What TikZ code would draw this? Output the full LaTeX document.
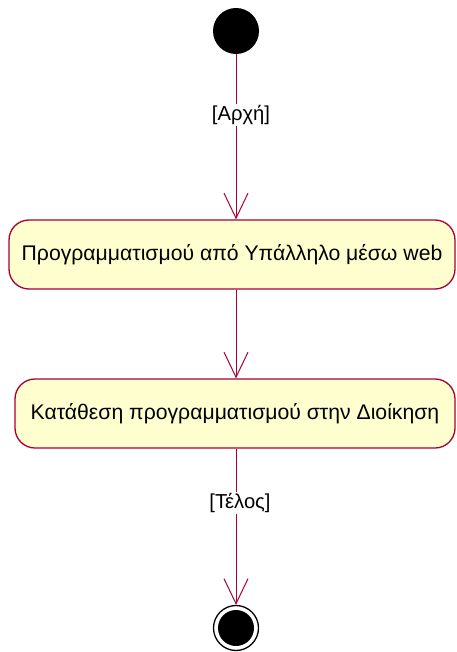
\documentclass[tikz,border=0pt]{standalone}
\usepackage{fontspec}
\setmainfont{Liberation Sans}
\usetikzlibrary{arrows.meta}
\definecolor{umlline}{HTML}{A80036}
\definecolor{umlfill}{HTML}{FEFECE}
\begin{document}
\begin{tikzpicture}[x=1pt,y=-1pt,
  flow/.style={draw=umlline, line width=1pt, -{Straight Barb[length=25pt,width=24pt,line width=1pt]}},
  plain/.style={draw=umlline, line width=1pt},
  activity/.style={draw=umlline, fill=umlfill, line width=1.3pt, rounded corners=20pt,
    inner sep=0pt, font=\fontsize{21.2}{25}\selectfont},
  guard/.style={fill=white, inner sep=1pt, font=\fontsize{20.2}{24}\selectfont}]
  \useasboundingbox (0,0) rectangle (456,652);
  % start and end markers
  \node[circle, fill=black, minimum size=46pt, inner sep=0pt] (start) at (236,31) {};
  \node[circle, draw=black, line width=1.3pt, fill=white, minimum size=45pt, inner sep=0pt] (stop) at (236,628) {};
  \node[circle, fill=black, minimum size=36pt, inner sep=0pt] (stopdot) at (stop) {};
  % activities
  \node[activity, minimum width=446pt, minimum height=69pt] (plan) at (232,254.5)
    {Προγραμματισμού από Υπάλληλο μέσω web};
  \node[activity, minimum width=440pt, minimum height=69pt] (submit) at (235,413.5)
    {Κατάθεση προγραμματισμού στην Διοίκηση};
  % guard labels
  \coordinate (g1) at (236,115);
  \coordinate (g2) at (236,503);
  % transitions
  \draw[plain] (start) -- (g1);
  \draw[flow] (g1) -- (start |- plan.north);
  \draw[flow] (start |- plan.south) -- (start |- submit.north);
  \draw[plain] (start |- submit.south) -- (g2);
  \draw[flow] (g2) -- (stop.north);
  \node[guard] (arxi) at (241,115) {[Αρχή]};
  \node[guard] (telos) at (240,503) {[Τέλος]};
\end{tikzpicture}
\end{document}
